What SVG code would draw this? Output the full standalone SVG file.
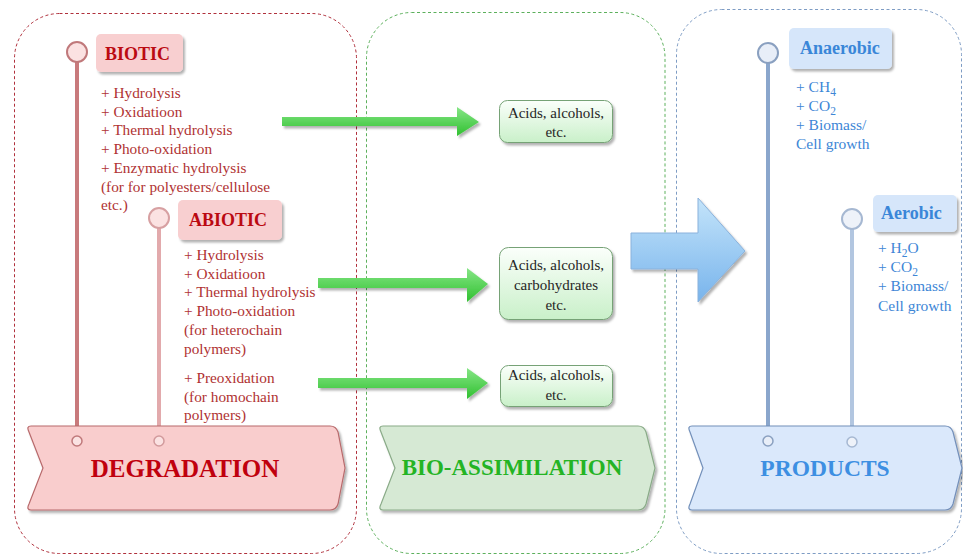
<svg xmlns="http://www.w3.org/2000/svg" width="963" height="557" viewBox="0 0 963 557">
<style>
text{font-family:"Liberation Serif","Times New Roman",serif}
.panel{fill:none;stroke-width:1;stroke-dasharray:3 2.5}
.red{fill:#b03232;font-size:15.3px}
.blue{fill:#3d86d6;font-size:15.5px}
.dark{fill:#262626;font-size:15px;text-anchor:middle}
.lbl{font-weight:bold;font-size:18px}
.big{font-weight:bold;text-anchor:middle}
.gbox{fill:url(#gboxg);stroke:#76a276;stroke-width:1}
.garrow{fill:url(#garg);filter:url(#sh)}
</style>
<defs>
<filter id="sh" x="-10%" y="-20%" width="130%" height="150%">
<feDropShadow dx="2" dy="2.5" stdDeviation="1.2" flood-color="#000" flood-opacity="0.3"/>
</filter>
<linearGradient id="gboxg" x1="0" y1="0" x2="0" y2="1">
<stop offset="0" stop-color="#fbfffb"/><stop offset="1" stop-color="#c9f0c9"/>
</linearGradient>
<linearGradient id="garg" x1="0" y1="0" x2="0" y2="1">
<stop offset="0" stop-color="#86e686"/><stop offset="1" stop-color="#30c030"/>
</linearGradient>
<linearGradient id="barg" x1="0" y1="0" x2="0" y2="1">
<stop offset="0" stop-color="#c4e4fa"/><stop offset="1" stop-color="#78b4ec"/>
</linearGradient>
</defs>

<g id="panels">
<rect class="panel" x="14.5" y="13.5" width="342" height="540" rx="45" stroke="#b0303c"/>
<rect class="panel" x="366.5" y="12.5" width="298.5" height="541" rx="45" stroke="#5cb05c"/>
<rect class="panel" x="676.5" y="9.5" width="285" height="544" rx="45" stroke="#7e9cc4"/>
</g>

<g id="connectors">
<line x1="77" y1="62" x2="77" y2="436" stroke="#c87a7c" stroke-width="4"/>
<line x1="159" y1="227" x2="159" y2="436" stroke="#e2aaac" stroke-width="4"/>
<line x1="768" y1="63" x2="768" y2="436" stroke="#8aa6cc" stroke-width="4"/>
<line x1="852" y1="229" x2="852" y2="437" stroke="#b2c6e0" stroke-width="4"/>
<path class="garrow" d="M282,117 L457,117 L457,107 L479,122 L457,136 L457,126 L282,126 Z"/>
<path class="garrow" d="M318,278 L467,278 L467,268 L488,284 L467,302 L467,288 L318,288 Z"/>
<path class="garrow" d="M318,378 L467,378 L467,368 L488,383 L467,399 L467,388 L318,388 Z"/>
<path d="M631,233 L698,233 L698,198 L745,251 L698,302 L698,269 L631,269 Z" fill="url(#barg)" stroke="#8ab2dc" stroke-width="1" filter="url(#sh)"/>
</g>

<g id="node-degradation">
<path d="M31,426 L330,426 Q336,426 338,432 L345,468 L338,504 Q336,510 330,510 L31,510 Q26,510 29,504 L43,468 L29,432 Q26,426 31,426 Z" fill="#f9cdcd" stroke="#b86a6c" stroke-width="1.2" filter="url(#sh)"/>
<text class="big" x="185" y="477" font-size="25" fill="#c0000e">DEGRADATION</text>
</g>

<g id="node-bioassimilation">
<path d="M383,426 L638,426 Q644,426 646,432 L655,468 L646,504 Q644,510 638,510 L383,510 Q378,510 381,504 L395,468 L381,432 Q378,426 383,426 Z" fill="#d6e9d4" stroke="#8aab88" stroke-width="1.2" filter="url(#sh)"/>
<text class="big" x="512" y="475" font-size="23" fill="#24b424">BIO-ASSIMILATION</text>
</g>

<g id="node-products">
<path d="M692,426 L945,426 Q951,426 953,432 L962,468 L953,504 Q951,510 945,510 L692,510 Q687,510 690,504 L703,468 L690,432 Q687,426 692,426 Z" fill="#dae8fb" stroke="#7390ba" stroke-width="1.2" filter="url(#sh)"/>
<text class="big" x="825" y="476" font-size="23.5" fill="#3d8fe2">PRODUCTS</text>
</g>

<g id="node-biotic">
<circle cx="77" cy="52" r="10" fill="#fbe2e2" stroke="#c0797b" stroke-width="2"/>
<circle cx="77" cy="441" r="5" fill="#fbe2e2" stroke="#c0797b" stroke-width="1.5"/>
<rect x="96" y="34" width="87" height="38" rx="5" fill="#f8cfd0" filter="url(#sh)"/>
<text class="lbl" x="105" y="60" fill="#bb0a12">BIOTIC</text>
<text class="red" x="101" y="98">+ Hydrolysis</text>
<text class="red" x="101" y="116.7">+ Oxidatioon</text>
<text class="red" x="101" y="135.4">+ Thermal hydrolysis</text>
<text class="red" x="101" y="154">+ Photo-oxidation</text>
<text class="red" x="101" y="172.8">+ Enzymatic hydrolysis</text>
<text class="red" x="101" y="191.5">(for for polyesters/cellulose</text>
<text class="red" x="101" y="210">etc.)</text>
</g>

<g id="node-abiotic">
<circle cx="159" cy="218" r="10" fill="#fbe2e2" stroke="#d7a0a2" stroke-width="2"/>
<circle cx="159" cy="441" r="5" fill="#fbe2e2" stroke="#d29a9c" stroke-width="1.5"/>
<rect x="178" y="200" width="104" height="40" rx="5" fill="#f8cfd0" filter="url(#sh)"/>
<text class="lbl" x="189" y="226" fill="#bb0a12">ABIOTIC</text>
<text class="red" x="184" y="260">+ Hydrolysis</text>
<text class="red" x="184" y="278.7">+ Oxidatioon</text>
<text class="red" x="184" y="297.4">+ Thermal hydrolysis</text>
<text class="red" x="184" y="316">+ Photo-oxidation</text>
<text class="red" x="184" y="334.8">(for heterochain</text>
<text class="red" x="184" y="353.5">polymers)</text>
<text class="red" x="184" y="383">+ Preoxidation</text>
<text class="red" x="184" y="401.7">(for homochain</text>
<text class="red" x="184" y="420.4">polymers)</text>
</g>

<g id="node-acids1">
<rect class="gbox" x="499.5" y="100.5" width="113" height="42" rx="8" filter="url(#sh)"/>
<text class="dark" x="556" y="118">Acids, alcohols,</text>
<text class="dark" x="556" y="137">etc.</text>
</g>
<g id="node-acids2">
<rect class="gbox" x="499.5" y="247.5" width="113" height="72" rx="9" filter="url(#sh)"/>
<text class="dark" x="556" y="270">Acids, alcohols,</text>
<text class="dark" x="556" y="290">carbohydrates</text>
<text class="dark" x="556" y="310">etc.</text>
</g>
<g id="node-acids3">
<rect class="gbox" x="500.5" y="365.5" width="112" height="41" rx="8" filter="url(#sh)"/>
<text class="dark" x="556" y="380">Acids, alcohols,</text>
<text class="dark" x="556" y="400">etc.</text>
</g>

<g id="node-anaerobic">
<circle cx="768" cy="53" r="10" fill="#e8eef8" stroke="#8aa0c0" stroke-width="2"/>
<circle cx="768" cy="441" r="5" fill="#e8eef8" stroke="#8aa0c0" stroke-width="1.5"/>
<rect x="789" y="28" width="103" height="41" rx="5" fill="#d6e6fa" filter="url(#sh)"/>
<text class="lbl" x="800" y="54" fill="#3a86d8">Anaerobic</text>
<text class="blue" x="796" y="92">+ CH<tspan font-size="11.5" dy="4">4</tspan></text>
<text class="blue" x="796" y="111">+ CO<tspan font-size="11.5" dy="4">2</tspan></text>
<text class="blue" x="796" y="130">+ Biomass/</text>
<text class="blue" x="796" y="149">Cell growth</text>
</g>

<g id="node-aerobic">
<circle cx="852" cy="219" r="10" fill="#eef2f9" stroke="#a6b8d2" stroke-width="2"/>
<circle cx="852" cy="442" r="5" fill="#eef2f9" stroke="#a6b8d2" stroke-width="1.5"/>
<rect x="873" y="195" width="84" height="37" rx="5" fill="#d6e6fa" filter="url(#sh)"/>
<text class="lbl" x="881" y="219" fill="#3a86d8">Aerobic</text>
<text class="blue" x="878" y="253">+ H<tspan font-size="11.5" dy="4">2</tspan><tspan dy="-4">O</tspan></text>
<text class="blue" x="878" y="272">+ CO<tspan font-size="11.5" dy="4">2</tspan></text>
<text class="blue" x="878" y="291">+ Biomass/</text>
<text class="blue" x="878" y="311">Cell growth</text>
</g>
</svg>
